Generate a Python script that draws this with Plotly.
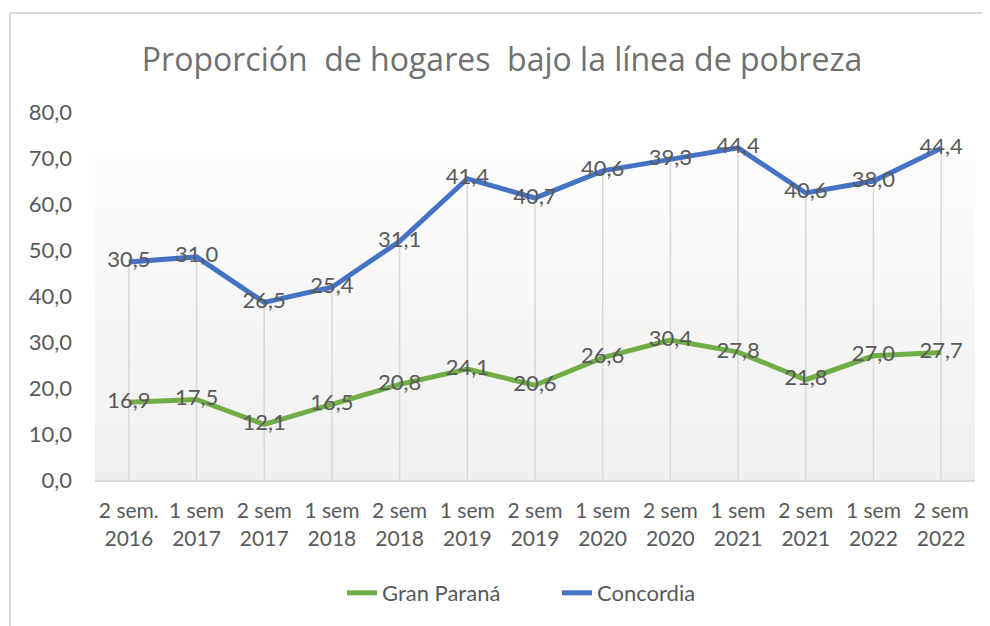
import plotly.graph_objects as go
import numpy as np

categories = ["2 sem.<br>2016", "1 sem<br>2017", "2 sem<br>2017", "1 sem<br>2018", "2 sem<br>2018",
              "1 sem<br>2019", "2 sem<br>2019", "1 sem<br>2020", "2 sem<br>2020", "1 sem<br>2021",
              "2 sem<br>2021", "1 sem<br>2022", "2 sem<br>2022"]
gran_parana = [16.9, 17.5, 12.1, 16.5, 20.8, 24.1, 20.6, 26.6, 30.4, 27.8, 21.8, 27.0, 27.7]
concordia = [30.5, 31.0, 26.5, 25.4, 31.1, 41.4, 40.7, 40.6, 39.3, 44.4, 40.6, 38.0, 44.4]
y_ticks = [0, 10, 20, 30, 40, 50, 60, 70, 80]

GREEN = "#70ad47"
BLUE = "#4472c4"
TXT = "#595959"
FONT = "Lato"

W, H = 982, 618
L, T, PW, PH = 87, 104, 880, 368

x = list(range(len(categories)))
gp = np.array(gran_parana)
stacked = gp + np.array(concordia)  # stacked line chart (as in the original)

def fmt(v):
    return f"{v:.1f}".replace(".", ",")

# drop lines from each top point to the axis
dx, dy = [], []
for xi, yi in zip(x, stacked):
    dx += [xi, xi, None]
    dy += [0, yi, None]

fig = go.Figure()
fig.add_trace(go.Scatter(x=dx, y=dy, mode="lines", line=dict(color="#d9d9d9", width=1.5),
                         hoverinfo="skip", showlegend=False))
fig.add_trace(go.Scatter(x=x, y=gp, name="Gran Paraná", mode="lines+text",
                         line=dict(color=GREEN, width=5),
                         text=[fmt(v) for v in gran_parana], textposition="middle center",
                         textfont=dict(color=TXT, size=22, family=FONT)))
fig.add_trace(go.Scatter(x=x, y=stacked, name="Concordia", mode="lines+text",
                         line=dict(color=BLUE, width=5),
                         text=[fmt(v) for v in concordia], textposition="middle center",
                         textfont=dict(color=TXT, size=22, family=FONT)))

# plot-area gradient
shapes = []
n = 40
top = 0.891
for i in range(n):
    y0 = top * i / n
    y1 = top * (i + 1) / n
    t = (i + 0.5) / n  # 0 bottom -> 1 top
    c = int(round(0xef + (0xfd - 0xef) * t))
    shapes.append(dict(type="rect", xref="paper", yref="paper", x0=0, x1=1, y0=y0, y1=y1,
                       fillcolor=f"rgb({c},{c},{c})", line=dict(width=0), layer="below"))
# chart frame
fl = (2 - L) / PW
ft = (T + PH - 5) / PH
shapes.append(dict(type="line", xref="paper", yref="paper", x0=fl, x1=fl, y0=-1, y1=ft,
                   line=dict(color="#d9d9d9", width=2)))
shapes.append(dict(type="line", xref="paper", yref="paper", x0=fl, x1=1.5, y0=ft, y1=ft,
                   line=dict(color="#d9d9d9", width=2)))

fig.update_layout(
    width=W, height=H,
    margin=dict(l=L, r=W - L - PW, t=T, b=H - T - PH),
    paper_bgcolor="white", plot_bgcolor="rgba(0,0,0,0)",
    shapes=shapes,
    title=dict(text="Proporción  de hogares  bajo la línea de pobreza", x=494 / W, xanchor="center",
               y=1 - 52 / H, yanchor="middle", font=dict(family="Open Sans", size=32, color="#707070")),
    font=dict(family=FONT, color=TXT, size=21),
    xaxis=dict(tickmode="array", tickvals=x, ticktext=categories, range=[-0.5, len(x) - 0.5],
               showgrid=False, zeroline=False, showline=True, linecolor="#d9d9d9", linewidth=2,
               ticks="", tickfont=dict(size=21, color=TXT, family=FONT), ticklabelstandoff=11),
    yaxis=dict(range=[0, 80], tickmode="array", tickvals=y_ticks, ticktext=[fmt(v) for v in y_ticks],
               showgrid=False, zeroline=False, showline=False, ticks="",
               tickfont=dict(size=22, color=TXT, family=FONT), ticklabelstandoff=22),
    legend=dict(orientation="h", x=(342 - 8 - L) / PW, xanchor="left", y=(T + PH - 585) / PH,
                yanchor="middle", font=dict(size=22, color=TXT, family=FONT), itemwidth=30,
                entrywidth=170, entrywidthmode="pixels", tracegroupgap=0),
    showlegend=True,
)

fig.write_html("out.html")
